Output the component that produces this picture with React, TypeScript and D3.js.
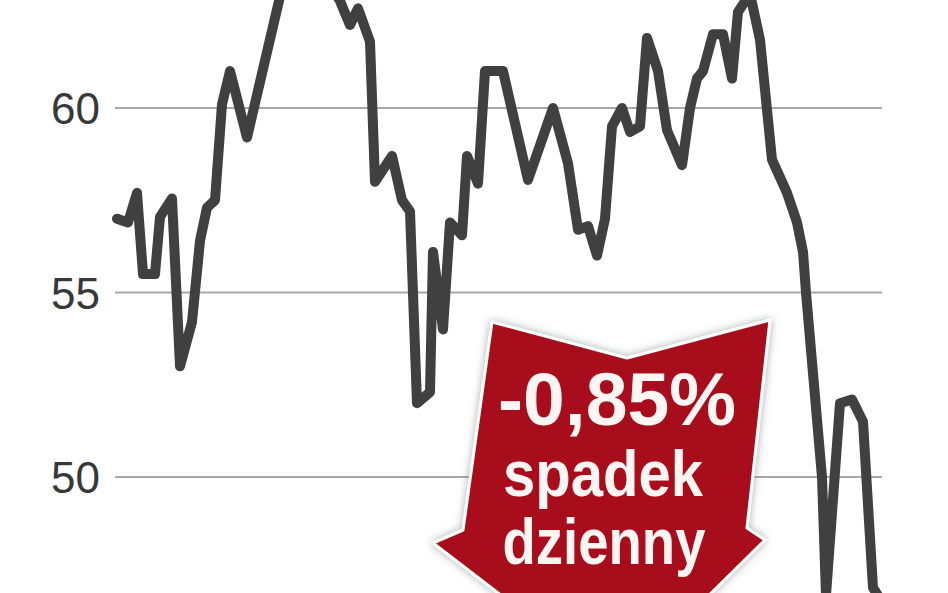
import * as d3 from 'd3'
import { useEffect, useRef } from 'react'

// session index (approx.) and closing value
const sessions = [
    0, 2.75, 5, 6.5, 9.5, 10.75, 13.75, 15.75, 18.75, 20.75, 22.5, 24.5, 26.25,
    28.25, 32.5, 42, 47, 52, 55.75, 58.25, 60.25, 63.25, 64.5, 68.75, 71.25,
    73.25, 75, 78.25, 79, 81.5, 83.25, 86.25, 87.5, 90.25, 92, 96.5, 102.75,
    109, 112.75, 115.25, 117.75, 120, 122, 123.75, 126.25, 128.25, 130.75,
    132.5, 135.25, 137.5, 141.25, 143.25, 145, 146.5, 149, 151.5, 153.75,
    155.25, 158.25, 160.75, 163.75, 167.5, 170, 171.5, 172.25, 176.25, 177.25,
    180.75, 183.75, 186.5, 189, 190.75,
]
const values = [
    57.0, 56.9, 57.7, 55.5, 55.5, 57.05, 57.55, 53.0, 54.2, 56.4, 57.3, 57.5,
    60.1, 61.0, 59.2, 63.6, 64.2, 63.6, 62.9, 62.25, 62.7, 61.8, 58.0, 58.7,
    57.5, 57.2, 52.0, 52.3, 56.1, 54.0, 56.9, 56.55, 58.7, 57.95, 61.0, 61.0,
    58.05, 60.0, 58.5, 56.7, 56.8, 56.0, 57.0, 59.5, 60.0, 59.35, 59.5, 61.9,
    61.0, 59.4, 58.45, 60.0, 60.8, 61.0, 62.0, 62.0, 60.8, 62.6, 63.1, 61.85,
    58.6, 57.7, 56.9, 56.1, 55.0, 50.0, 46.8, 52.0, 52.1, 51.5, 47.0, 46.7,
]
const yTicks = [50, 55, 60]
const badgeLines = ['-0,85%', 'spadek', 'dzienny']

export default function App() {
    const svgRef = useRef<SVGSVGElement>(null)
    const width = 948
    const height = 593

    useEffect(() => {
        if (!svgRef.current) return
        const svg = d3.select(svgRef.current)
        svg.selectAll('*').remove()

        const x = d3.scaleLinear().domain([0, 190.75]).range([117, 880])
        const y = d3.scaleLinear().domain([60, 55]).range([108, 292.5])

        const data = sessions.map((s, i) => ({ s, v: values[i] }))

        svg.append('rect')
            .attr('width', width)
            .attr('height', height)
            .attr('fill', '#ffffff')

        // grid lines
        svg.append('g')
            .selectAll('line')
            .data(yTicks)
            .enter()
            .append('line')
            .attr('x1', 115)
            .attr('x2', 882)
            .attr('y1', (d) => y(d))
            .attr('y2', (d) => y(d))
            .attr('stroke', '#a8a8a8')
            .attr('stroke-width', 2)

        // tick labels
        svg.append('g')
            .selectAll('text')
            .data(yTicks)
            .enter()
            .append('text')
            .attr('x', 100)
            .attr('y', (d) => y(d) + 16)
            .attr('text-anchor', 'end')
            .attr('font-family', '"Liberation Sans", Arial, sans-serif')
            .attr('font-size', 44)
            .attr('fill', '#383838')
            .text((d) => d)

        // price line
        const line = d3
            .line<{ s: number; v: number }>()
            .x((d) => x(d.s))
            .y((d) => y(d.v))

        svg.append('path')
            .datum(data)
            .attr('d', line)
            .attr('fill', 'none')
            .attr('stroke', '#404040')
            .attr('stroke-width', 10)
            .attr('stroke-linejoin', 'round')
            .attr('stroke-linecap', 'round')

        // red arrow badge
        const defs = svg.append('defs')
        const filter = defs
            .append('filter')
            .attr('id', 'glow')
            .attr('x', '-20%')
            .attr('y', '-20%')
            .attr('width', '140%')
            .attr('height', '140%')
        filter
            .append('feDropShadow')
            .attr('dx', 0)
            .attr('dy', 0)
            .attr('stdDeviation', 4)
            .attr('flood-color', '#6a7a70')
            .attr('flood-opacity', 0.6)

        const arrow: [number, number][] = [
            [492, 322],
            [627, 358],
            [770, 320],
            [747, 528],
            [765, 540],
            [618, 685],
            [433, 543],
            [463, 530],
        ]
        svg.append('path')
            .attr('d', d3.line()(arrow) + 'Z')
            .attr('fill', '#a8101d')
            .attr('stroke', '#ffffff')
            .attr('stroke-width', 3)
            .attr('stroke-linejoin', 'round')
            .attr('filter', 'url(#glow)')

        const badge = [
            { t: badgeLines[0], x: 617, y: 425, size: 74, len: 238 },
            { t: badgeLines[1], x: 603, y: 496, size: 64, len: 200 },
            { t: badgeLines[2], x: 604, y: 564, size: 64, len: 203 },
        ]
        svg.append('g')
            .selectAll('text')
            .data(badge)
            .enter()
            .append('text')
            .attr('x', (d) => d.x)
            .attr('y', (d) => d.y)
            .attr('text-anchor', 'middle')
            .attr('font-family', '"Liberation Sans", Arial, sans-serif')
            .attr('font-weight', 'bold')
            .attr('font-size', (d) => d.size)
            .attr('textLength', (d) => d.len)
            .attr('lengthAdjust', 'spacingAndGlyphs')
            .attr('fill', '#fff6f4')
            .text((d) => d.t)
    }, [])

    return (
        <svg
            ref={svgRef}
            width={width}
            height={height}
            style={{ position: 'absolute', left: 0, top: 0 }}
        />
    )
}
